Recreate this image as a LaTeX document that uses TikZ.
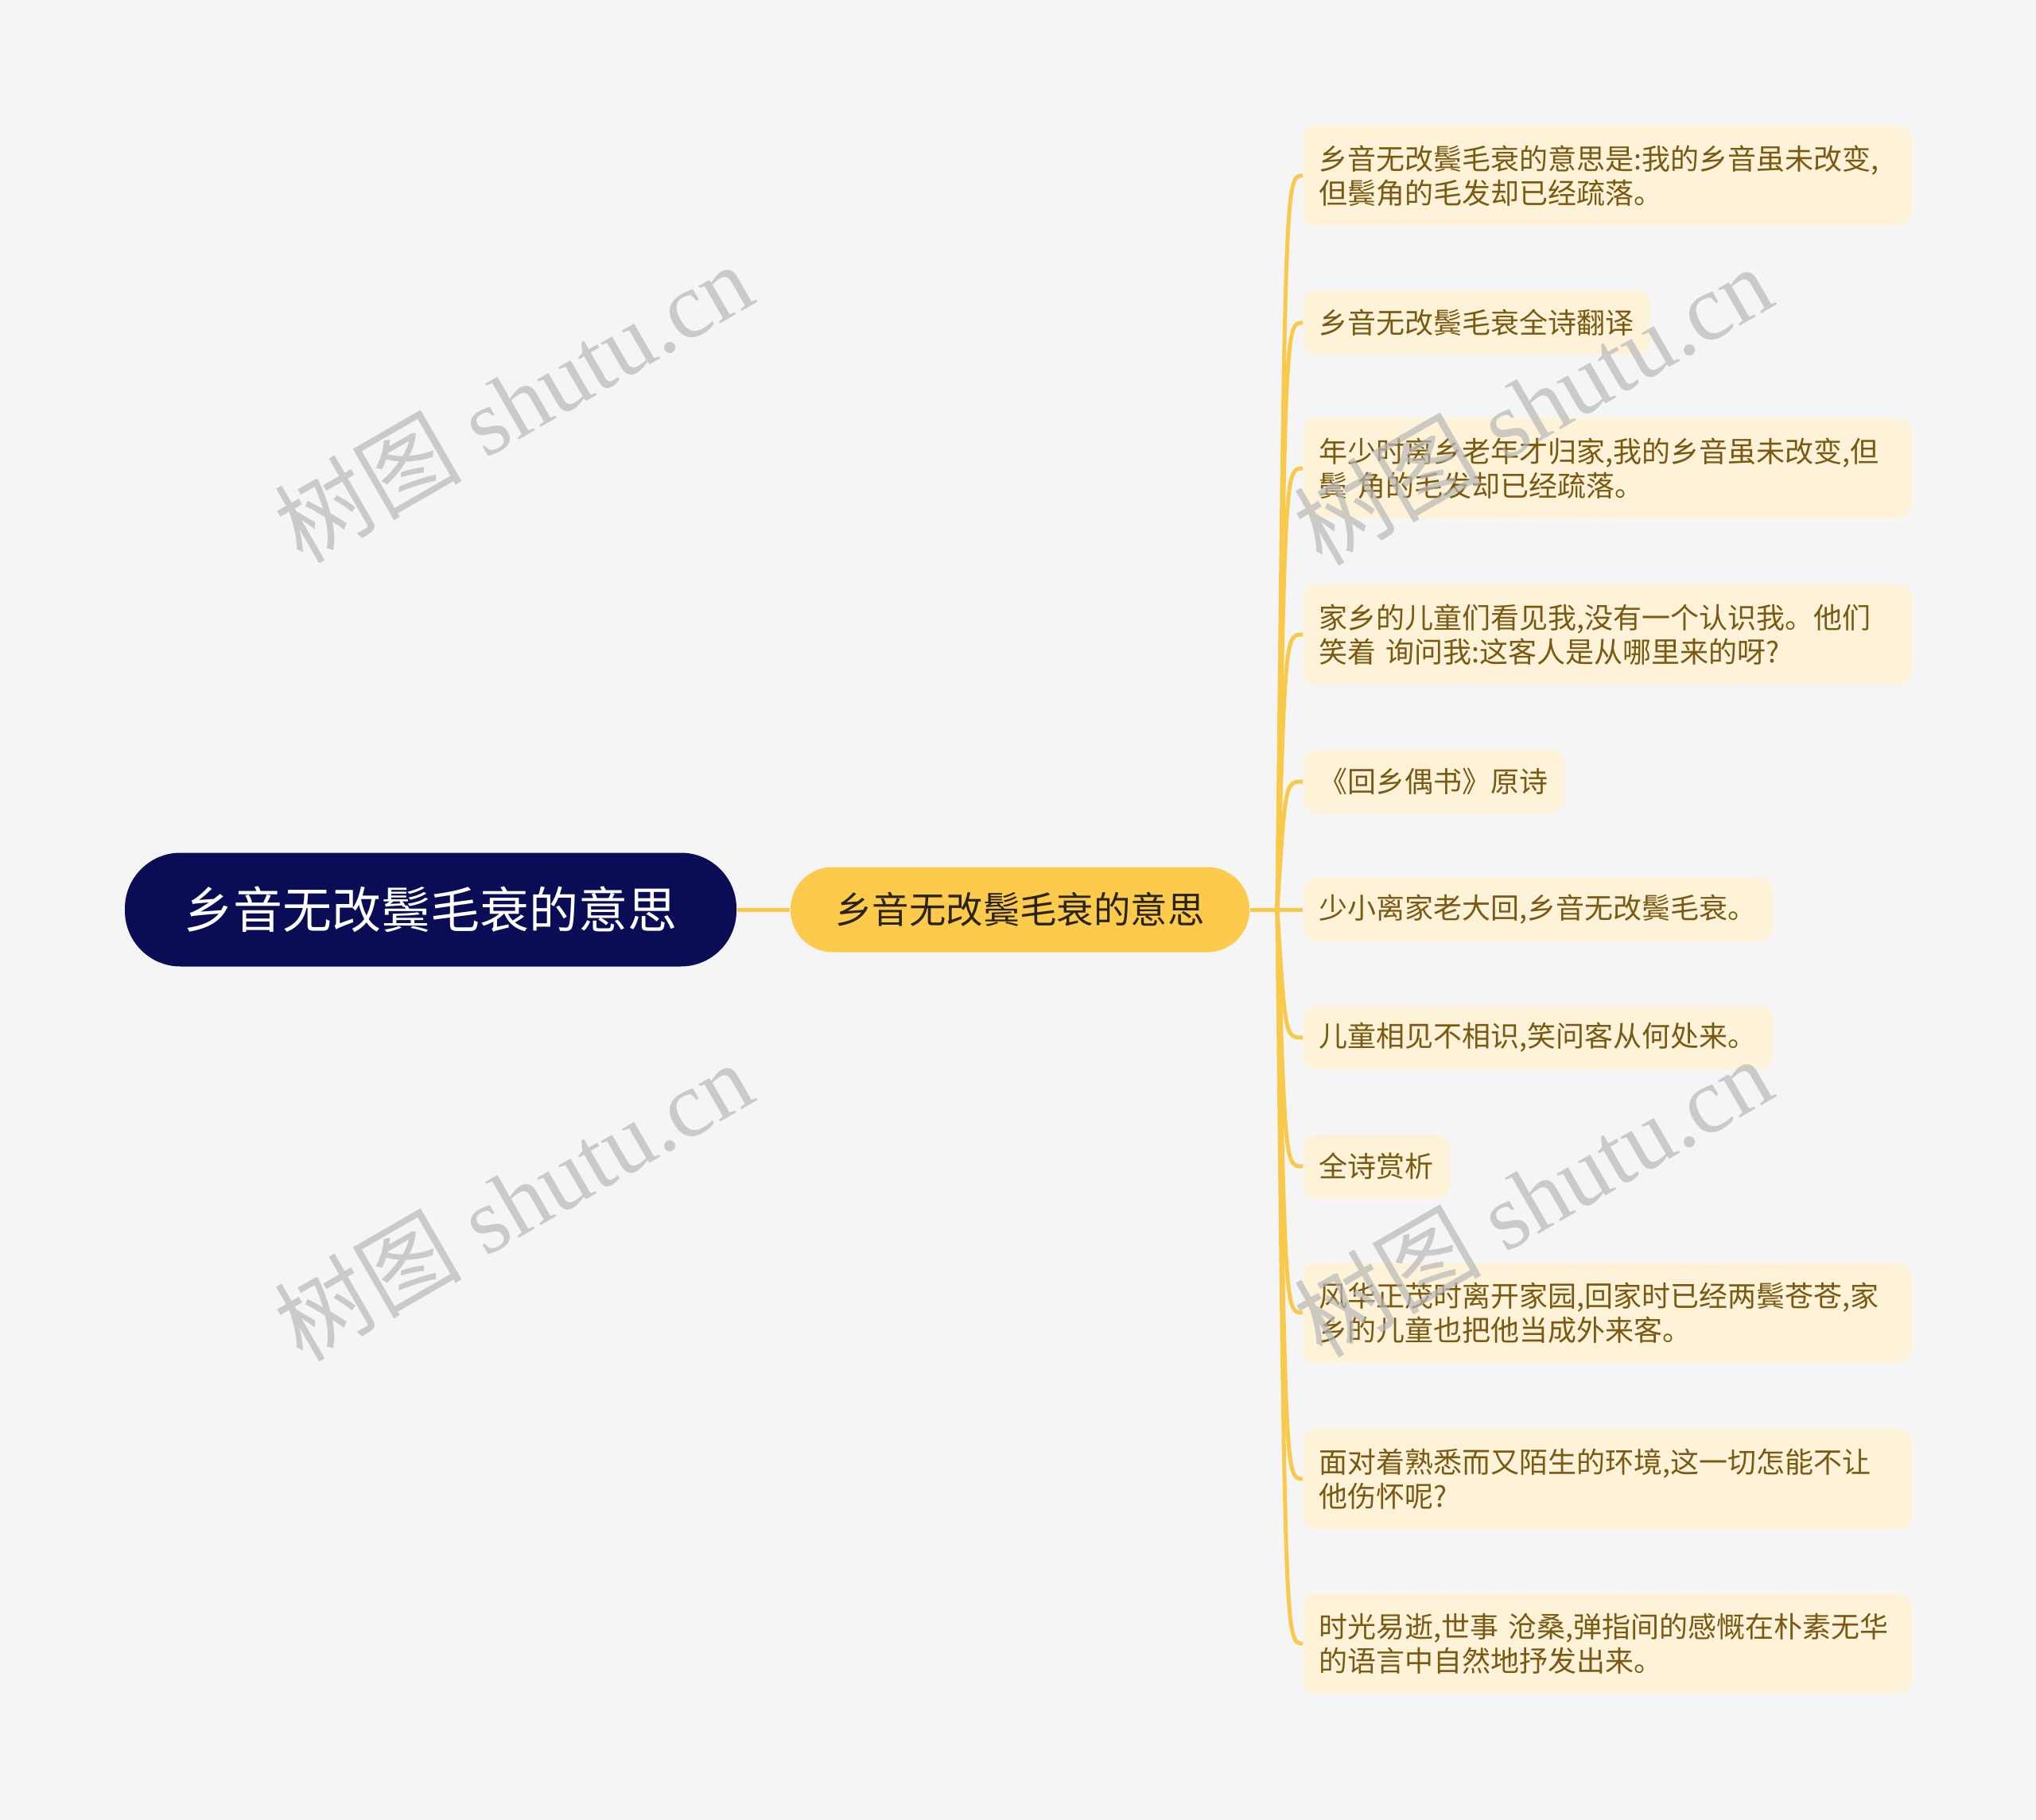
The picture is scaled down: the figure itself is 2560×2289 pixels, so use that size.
\documentclass[tikz,border=0pt]{standalone}
\usepackage{fontspec}
\setmainfont{Noto Sans CJK SC}
\newfontfamily\wmfont{Liberation Serif}
\newfontfamily\wmcjk{Noto Sans CJK SC}
\usetikzlibrary{calc}
\definecolor{bgcol}{HTML}{F5F5F5}
\definecolor{rootfill}{HTML}{0A0D56}
\definecolor{midfill}{HTML}{FCCB4C}
\definecolor{midtext}{HTML}{2B2416}
\definecolor{linecol}{HTML}{F8C94B}
\definecolor{leaffill}{HTML}{FEF3D9}
\definecolor{leaftext}{HTML}{7A5912}
\definecolor{wmgray}{HTML}{B8B8B8}
\begin{document}
\begin{tikzpicture}[x=0.25pt,y=-0.25pt,
  conn/.style={draw=linecol, line width=1.25pt},
  rootbox/.style={fill=rootfill, text=white, rounded corners=17.5pt, minimum width=192.25pt, minimum height=35.75pt, inner sep=0pt, font=\fontsize{15.5}{18}\selectfont},
  midbox/.style={fill=midfill, text=midtext, rounded corners=13.2pt, minimum width=144.25pt, minimum height=26.75pt, inner sep=0pt, font=\fontsize{11.6}{14}\selectfont},
  leaf/.style={anchor=west, fill=leaffill, text=leaftext, rounded corners=4pt, inner xsep=5pt, inner ysep=0pt, minimum height=20pt, font=\fontsize{9}{10.75}\selectfont},
  leaftwo/.style={leaf, text width=181.25pt, align=left, minimum height=31.5pt},
  wm/.style={rotate=30, text=wmgray, opacity=0.7, font=\wmfont\fontsize{29.5}{30}\selectfont}]
\fill[bgcol] (0,0) rectangle (2560,2289);
\useasboundingbox (0,0) rectangle (2560,2289);

\node[rootbox] (root) at (541.5,1144) {乡音无改鬓毛衰的意思};
\node[midbox] (mid) at (1282.5,1144) {乡音无改鬓毛衰的意思};
\coordinate (hub) at (1606,1144);

\node[leaftwo] (l1) at (1638,221) {乡音无改鬓毛衰的意思是:我的乡音虽未改变,\\但鬓角的毛发却已经疏落。};
\node[leaf] (l2) at (1638,406) {乡音无改鬓毛衰全诗翻译};
\node[leaftwo] (l3) at (1638,589) {年少时离乡老年才归家,我的乡音虽未改变,但\\鬓 角的毛发却已经疏落。};
\node[leaftwo] (l4) at (1638,798) {家乡的儿童们看见我,没有一个认识我。他们\\笑着 询问我:这客人是从哪里来的呀?};
\node[leaf] (l5) at (1638,983) {《回乡偶书》原诗};
\node[leaf] (l6) at (1638,1144) {少小离家老大回,乡音无改鬓毛衰。};
\node[leaf] (l7) at (1638,1305) {儿童相见不相识,笑问客从何处来。};
\node[leaf] (l8) at (1638,1467) {全诗赏析};
\node[leaftwo] (l9) at (1638,1651) {风华正茂时离开家园,回家时已经两鬓苍苍,家\\乡的儿童也把他当成外来客。};
\node[leaftwo] (l10) at (1638,1860) {面对着熟悉而又陌生的环境,这一切怎能不让\\他伤怀呢?};
\node[leaftwo] (l11) at (1638,2067) {时光易逝,世事 沧桑,弹指间的感慨在朴素无华\\的语言中自然地抒发出来。};

\draw[conn] (root.east) -- (mid.west);
\draw[conn] (mid.east) -- (hub);
\foreach \n in {l1,l2,l3,l4,l5,l6,l7,l8,l9,l10,l11}{
  \draw[conn] (hub) .. controls ($(hub |- \n.west)+(10,0)$) and ($(hub |- \n.west)+(10,0)$) .. (\n.west);
}

\node[wm] (w1) at (645,506) {{\wmcjk 树图} shutu.cn};
\node[wm] (w2) at (1927,509) {{\wmcjk 树图} shutu.cn};
\node[wm] (w3) at (645,1510) {{\wmcjk 树图} shutu.cn};
\node[wm] (w4) at (1927,1505) {{\wmcjk 树图} shutu.cn};
\end{tikzpicture}
\end{document}
